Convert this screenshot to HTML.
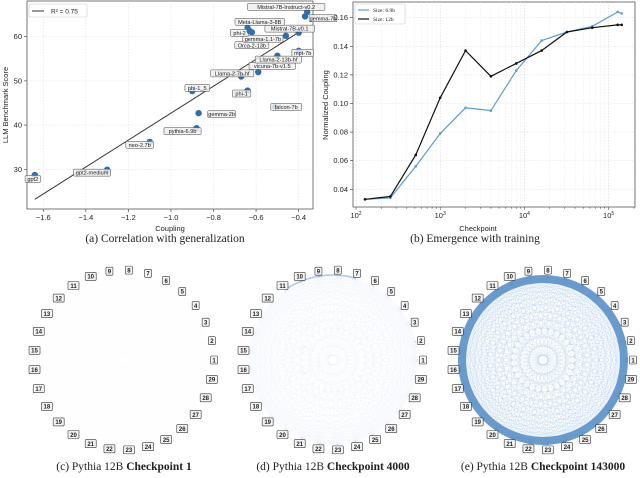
<!DOCTYPE html>
<html><head><meta charset="utf-8"><style>
body{margin:0;background:#fff;width:640px;height:478px;overflow:hidden}
svg{display:block}
</style></head><body>
<svg id="s" width="640" height="478" xmlns="http://www.w3.org/2000/svg"
 font-family="Liberation Sans, sans-serif"></svg>
<script>
const NS="http://www.w3.org/2000/svg";
const svg=document.getElementById('s');
function el(t,a,p){const e=document.createElementNS(NS,t);for(const k in a)e.setAttribute(k,a[k]);(p||svg).appendChild(e);return e;}
function tx(x,y,s,a,p){const e=el('text',Object.assign({x:x,y:y},a),p);e.textContent=s;return e;}

// ---- Panel (a) data ----
const models=["gpt2","gpt2-medium","neo-2.7b","pythia-6.9b","gemma-2b","phi-1_5","phi-1","falcon-7b","Llama-2-7b-hf","vicuna-7b-v1.5","Llama-2-13b-hf","mpt-7b","Orca-2-13b","gemma-1.1-7b","Mistral-7B-v0.1","phi-2","Meta-Llama-3-8B","gemma-7b","Mistral-7B-Instruct-v0.2"];
const coupling=[-1.64,-1.30,-1.10,-0.88,-0.87,-0.90,-0.64,-0.51,-0.67,-0.59,-0.50,-0.40,-0.62,-0.46,-0.40,-0.64,-0.63,-0.37,-0.36];
const score=[28.7,29.9,36.2,39.3,42.7,47.7,47.8,44.1,51.0,52.0,55.7,56.8,61.0,60.2,60.9,62.0,61.3,64.6,65.6];
const fitX=[-1.64,-0.40];
const fitY=[23.2,61.0];
const aXTicks=[-1.6,-1.4,-1.2,-1.0,-0.8,-0.6,-0.4];
const aYTicks=[30,40,50,60];
// label offsets (layout only)
const labDx=[-2,-15,-10,-14,23,5,-6,11,-9,14,1,4,0,-23,-9,-8,10,18,-21];
const labDy=[4,3,3,3,1,-3,3,0,-3,-6,4,2,13,3,-4,5,-9,2,-5];

// ---- Panel (b) data ----
const checkpoints=[128,256,512,1000,2000,4000,8000,16000,32000,64000,128000,143000];
const cpl69=[0.033,0.034,0.056,0.079,0.097,0.095,0.123,0.144,0.150,0.154,0.164,0.163];
const cpl12=[0.033,0.035,0.064,0.104,0.137,0.119,0.128,0.137,0.150,0.153,0.155,0.155];
const bYTicks=[0.04,0.06,0.08,0.10,0.12,0.14,0.16];
const bXTicks=[2,3,4,5];

// ---- Panels (c-e) data ----
const nodeCount=29;
const panelEdgeAlpha=[0.012,0.045,0.16];
const panelRingAlpha=[0,0,0.8];
const panelTitles=["Checkpoint 1","Checkpoint 4000","Checkpoint 143000"];

// ===== Panel (a) =====
const ax={l:27,r:313,t:1,b:209};
const xa=v=>43.3+(v+1.6)*212.8;
const ya=v=>169.3-(v-30)*4.42;
const ga=el('g',{});
el('rect',{x:ax.l,y:ax.t,width:ax.r-ax.l,height:ax.b-ax.t,fill:'#fff',stroke:'#555','stroke-width':0.8},ga);
aXTicks.forEach(v=>{const x=xa(v);el('line',{x1:x,x2:x,y1:ax.t,y2:ax.b,stroke:'#ddd','stroke-dasharray':'1.5,1.5','stroke-width':0.5},ga);
 el('line',{x1:x,x2:x,y1:ax.b,y2:ax.b+3,stroke:'#333','stroke-width':0.6},ga);
 const t=tx(x,ax.b+11,(v<0?'\u2212':'')+Math.abs(v).toFixed(1),{'font-size':7.5,'text-anchor':'middle',fill:'#222'},ga);});
aYTicks.forEach(v=>{const y=ya(v);el('line',{x1:ax.l,x2:ax.r,y1:y,y2:y,stroke:'#ddd','stroke-dasharray':'1.5,1.5','stroke-width':0.5},ga);
 el('line',{x1:ax.l-3,x2:ax.l,y1:y,y2:y,stroke:'#333','stroke-width':0.6},ga);
 const t=tx(ax.l-5,y+2.5,String(v),{'font-size':7.5,'text-anchor':'end',fill:'#222'},ga);});
const fl=el('line',{x1:xa(fitX[0]),y1:ya(fitY[0]),x2:xa(fitX[1]),y2:ya(fitY[1]),stroke:'#333','stroke-width':1},ga);

models.forEach((m,i)=>{const x=xa(coupling[i]),y=ya(score[i]);
 const c=el('circle',{cx:x,cy:y,r:3.2,fill:'#2e6fae'},ga);
 
 const lx=x+labDx[i],ly=y+labDy[i];const w=m.length*3.1+3;
 const g=el('g',{},ga);
 el('rect',{x:lx-w/2,y:ly-3.6,width:w,height:7,fill:'#eee','fill-opacity':0.85,stroke:'#444','stroke-width':0.5,rx:1},g);
 tx(lx,ly+2,m,{'font-size':5.6,'text-anchor':'middle',fill:'#222'},g);});
const lg=el('g',{},ga);
el('rect',{x:29,y:4,width:58,height:13,fill:'#fff',stroke:'#ccc','stroke-width':0.6,rx:1.5},lg);
el('line',{x1:32,x2:44,y1:11,y2:11,stroke:'#333','stroke-width':1},lg);
tx(51,13.5,'R² = 0.75',{'font-size':6.5,fill:'#222'},lg);
const at=tx(170,231,'Coupling',{'font-size':7.5,'text-anchor':'middle',fill:'#222'},ga);
const ay=tx(0,0,'LLM Benchmark Score',{'font-size':7.5,'text-anchor':'middle',fill:'#222',transform:'translate(8,105) rotate(-90)'},ga);
const ca=tx(165,242,'(a) Correlation with generalization',{'font-size':11.5,'text-anchor':'middle','font-family':'Liberation Serif, serif',fill:'#222'});


// ===== Panel (b) =====
const bx={l:353,r:635,t:2,b:207};
const xb=v=>356+(Math.log10(v)-2)*84.2;
const yb=v=>189.3-(v-0.04)*1430;
const gb=el('g',{});
el('rect',{x:bx.l,y:bx.t,width:bx.r-bx.l,height:bx.b-bx.t,fill:'#fff',stroke:'#555','stroke-width':0.8},gb);
for(let d=2;d<=5;d++)for(let k=1;k<10;k++){const v=k*Math.pow(10,d);const x=xb(v);if(x>bx.r)break;
 el('line',{x1:x,x2:x,y1:bx.t,y2:bx.b,stroke:k==1?'#ccc':'#e6e6e6','stroke-dasharray':'1.5,1.5','stroke-width':0.5},gb);
 el('line',{x1:x,x2:x,y1:bx.b,y2:bx.b+(k==1?3:1.8),stroke:'#333','stroke-width':0.5},gb);}
bXTicks.forEach(d=>{const t=tx(xb(Math.pow(10,d)),bx.b+11,'10',{'font-size':7.5,'text-anchor':'middle',fill:'#222'},gb);
 const s=el('tspan',{'font-size':5,dy:-3},t);s.textContent=d;});
bYTicks.forEach(v=>{const y=yb(v);el('line',{x1:bx.l,x2:bx.r,y1:y,y2:y,stroke:'#ddd','stroke-dasharray':'1.5,1.5','stroke-width':0.5},gb);
 el('line',{x1:bx.l-3,x2:bx.l,y1:y,y2:y,stroke:'#333','stroke-width':0.6},gb);
 const t=tx(bx.l-5,y+2.5,v.toFixed(2),{'font-size':7.5,'text-anchor':'end',fill:'#222'},gb);});
function series(vals,col,name){const pts=checkpoints.map((c,i)=>xb(c)+','+yb(vals[i])).join(' ');
 const p=el('polyline',{points:pts,fill:'none',stroke:col,'stroke-width':1.2},gb);
 checkpoints.forEach((c,i)=>{const m=el('circle',{cx:xb(c),cy:yb(vals[i]),r:1.3,fill:col},gb);});}
series(cpl69,'#5b9bd5','series-6.9b');
series(cpl12,'#111','series-12b');
const lb=el('g',{},gb);
el('rect',{x:355,y:4,width:50,height:20,fill:'#fff',stroke:'#ccc','stroke-width':0.6,rx:1.5},lb);
el('line',{x1:358,x2:369,y1:10,y2:10,stroke:'#5b9bd5','stroke-width':1.2},lb);
el('line',{x1:358,x2:369,y1:19,y2:19,stroke:'#111','stroke-width':1.2},lb);
tx(373,12,'Size: 6.9b',{'font-size':5.5,'font-family':'Liberation Serif, serif',fill:'#222'},lb);
tx(373,21,'Size: 12b',{'font-size':5.5,'font-family':'Liberation Serif, serif',fill:'#222'},lb);
const bt=tx(478,231,'Checkpoint',{'font-size':7.5,'text-anchor':'middle',fill:'#222'},gb);
const by=tx(0,0,'Normalized Coupling',{'font-size':7.5,'text-anchor':'middle',fill:'#222',transform:'translate(328,105) rotate(-90)'},gb);
const cb=tx(475,242,'(b) Emergence with training',{'font-size':11.5,'text-anchor':'middle','font-family':'Liberation Serif, serif',fill:'#222'});


// ===== Circle graphs =====
const centers=[[124,360],[333,360],[543,360]];
const letters=['c','d','e'];
centers.forEach((c,pi)=>{
 const g=el('g',{});
 const R=85,RL=90;const pos=[];
 for(let k=0;k<nodeCount;k++){const a=k*2*Math.PI/nodeCount;pos.push([c[0]+R*Math.cos(a),c[1]-R*Math.sin(a),a]);}
 const eg=el('g',{stroke:'#3b7fc0','stroke-opacity':panelEdgeAlpha[pi],'stroke-width':0.45},g);
 
 for(let i=0;i<nodeCount;i++)for(let j=i+1;j<nodeCount;j++)el('line',{x1:pos[i][0],y1:pos[i][1],x2:pos[j][0],y2:pos[j][1]},eg);
 if(pi==1){el('path',{d:`M${pos[6][0]},${pos[6][1]} A${R},${R} 0 0 0 ${pos[10][0]},${pos[10][1]}`,fill:'none',stroke:'#5b93c8','stroke-width':1.5,'stroke-opacity':0.5},g);}
 if(panelRingAlpha[pi]>0){el('circle',{cx:c[0],cy:c[1],r:R-4,fill:'none',stroke:'#4a86c3','stroke-width':8,'stroke-opacity':panelRingAlpha[pi]},g);}
 for(let k=0;k<nodeCount;k++){const a=pos[k][2];const lx=c[0]+RL*Math.cos(a),ly=c[1]-RL*Math.sin(a);
  const s=String(k+1);const w=s.length*4+3;
  const ng=el('g',{},g);
  el('rect',{x:lx-w/2,y:ly-4,width:w,height:8,fill:'#f4f4f4',stroke:'#333','stroke-width':0.6,rx:1},ng);
  tx(lx,ly+2.3,s,{'font-size':6,'text-anchor':'middle','font-weight':'bold',fill:'#222'},ng);}
 const t=tx(c[0],470,'('+letters[pi]+') Pythia 12B ',{'font-size':11.5,'text-anchor':'middle','font-family':'Liberation Serif, serif',fill:'#222'});
 const b=el('tspan',{'font-weight':'bold'},t);b.textContent=panelTitles[pi];
 
});
</script>
</body></html>
